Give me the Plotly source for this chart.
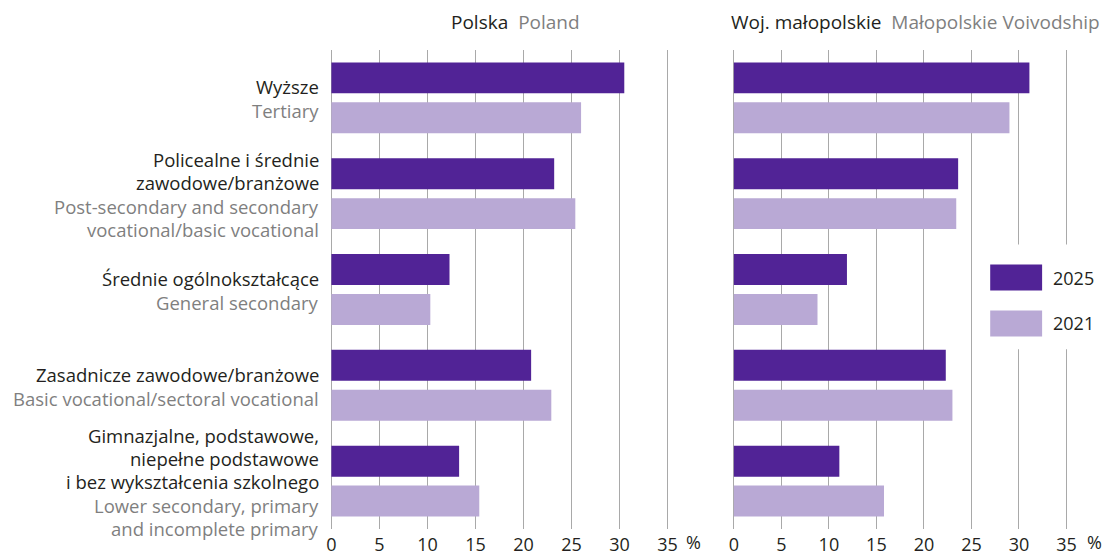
import plotly.graph_objects as go

# ---- data ---------------------------------------------------------------
categories = [
    "Wyższe",
    "Policealne i średnie zawodowe/branżowe",
    "Średnie ogólnokształcące",
    "Zasadnicze zawodowe/branżowe",
    "Gimnazjalne, podstawowe, niepełne podstawowe i bez wykształcenia szkolnego",
]
labels_pl = [
    ["Wyższe"],
    ["Policealne i średnie", "zawodowe/branżowe"],
    ["Średnie ogólnokształcące"],
    ["Zasadnicze zawodowe/branżowe"],
    ["Gimnazjalne, podstawowe,", "niepełne podstawowe", "i bez wykształcenia szkolnego"],
]
labels_en = [
    ["Tertiary"],
    ["Post-secondary and secondary", "vocational/basic vocational"],
    ["General secondary"],
    ["Basic vocational/sectoral vocational"],
    ["Lower secondary, primary", "and incomplete primary"],
]
poland_2025 = [30.5, 23.2, 12.3, 20.8, 13.3]
poland_2021 = [26.0, 25.4, 10.3, 22.9, 15.4]
malopolska_2025 = [31.1, 23.6, 11.9, 22.3, 11.1]
malopolska_2021 = [29.0, 23.4, 8.8, 23.0, 15.8]
years = ["2025", "2021"]
tick_values = [0, 5, 10, 15, 20, 25, 30, 35]

# ---- styling ------------------------------------------------------------
W, H = 1104, 556
FONT = "Open Sans"
DARK = "#512396"
LIGHT = "#b9a9d5"
TEXT_DARK = "#231f20"
TEXT_GREY = "#7f7f7f"
GRID = "#a9a9a9"
LABEL_SIZE = 18.5
TITLE_SIZE = 19
TICK_SIZE = 18

PLOT_TOP, PLOT_BOTTOM = 50, 530
ROW_PX = (PLOT_BOTTOM - PLOT_TOP) / len(categories)
LINE_PX = 23      # spacing between lines of one language
BLOCK_GAP_PX = 24  # spacing between the Polish and English blocks
X_LO, X_HI = -0.3, 37


def fx(p):
    return p / W


def fy(p):
    return 1 - p / H


def x_domain(zero_px, px_per_unit):
    return [fx(zero_px + X_LO * px_per_unit), fx(zero_px + X_HI * px_per_unit)]


fig = go.Figure()

panels = [
    ("x", "y", poland_2025, poland_2021),
    ("x2", "y2", malopolska_2025, malopolska_2021),
]
for xa, ya, v25, v21 in panels:
    for name, vals, col in ((years[0], v25, DARK), (years[1], v21, LIGHT)):
        fig.add_trace(go.Bar(
            x=vals, y=categories, orientation="h", name=name,
            marker=dict(color=col, line=dict(width=0)),
            xaxis=xa, yaxis=ya, showlegend=False,
            hovertemplate="%{y}: %{x}%<extra>" + name + "</extra>",
        ))

axis_common = dict(
    range=[X_LO, X_HI], tickvals=tick_values, showgrid=True, gridcolor=GRID,
    gridwidth=1.3, zeroline=False, showline=False, ticks="", ticklabelstandoff=3,
    tickfont=dict(family=FONT, size=TICK_SIZE, color=TEXT_DARK),
)
yaxis_common = dict(
    categoryorder="array", categoryarray=categories, range=[len(categories) - 0.5, -0.5],
    showticklabels=False, showgrid=False, zeroline=False, showline=False, ticks="",
    domain=[fy(PLOT_BOTTOM), fy(PLOT_TOP)],
)

fig.update_layout(
    width=W, height=H, margin=dict(l=0, r=0, t=0, b=0),
    paper_bgcolor="white", plot_bgcolor="white",
    barmode="group", bargap=0.1667, bargroupgap=0.225,
    font=dict(family=FONT, color=TEXT_DARK),
    xaxis=dict(axis_common, domain=x_domain(330, 9.62), anchor="y"),
    xaxis2=dict(axis_common, domain=x_domain(733.2, 9.52), anchor="y2"),
    yaxis=dict(yaxis_common, anchor="x"),
    yaxis2=dict(yaxis_common, anchor="x2", matches="y"),
)

annotations = []

# category labels: Polish lines (dark) above English lines (grey), centred on the group
for i, (pl, en) in enumerate(zip(labels_pl, labels_en)):
    lines = [(t, TEXT_DARK) for t in pl] + [(t, TEXT_GREY) for t in en]
    pos = []
    y = 0.0
    for k in range(len(lines)):
        if k > 0:
            y += BLOCK_GAP_PX if k == len(pl) else LINE_PX
        pos.append(y)
    mid = (pos[0] + pos[-1]) / 2
    for (txt, col), p in zip(lines, pos):
        off_px = p - mid + 1
        annotations.append(dict(
            text=txt, xref="paper", yref="y", x=fx(319), y=i + off_px / ROW_PX,
            xanchor="right", yanchor="middle", showarrow=False, align="right",
            borderpad=0, font=dict(family=FONT, size=LABEL_SIZE, color=col),
        ))

# panel titles
for cx, pl, en in ((514, "Polska", "Poland"), (915, "Woj. małopolskie", "Małopolskie Voivodship")):
    annotations.append(dict(
        text=f"<span style='color:{TEXT_DARK}'>{pl}</span>&nbsp; <span style='color:{TEXT_GREY}'>{en}</span>",
        xref="paper", yref="paper", x=fx(cx), y=fy(22), xanchor="center", yanchor="middle",
        showarrow=False, font=dict(family=FONT, size=TITLE_SIZE),
    ))

# unit markers after the last tick
for px in (693, 1094):
    annotations.append(dict(
        text="%", xref="paper", yref="paper", x=fx(px), y=fy(556),
        xanchor="center", yanchor="bottom", showarrow=False, borderpad=0,
        font=dict(family=FONT, size=TICK_SIZE, color=TEXT_DARK),
    ))

# legend drawn as a panel with wide swatches
shapes = [dict(type="rect", xref="paper", yref="paper", x0=fx(975), x1=fx(1104),
               y0=fy(350), y1=fy(245), fillcolor="white", line=dict(width=0), layer="above")]
for yr, col, top in ((years[0], DARK, 265), (years[1], LIGHT, 311)):
    shapes.append(dict(type="rect", xref="paper", yref="paper", x0=fx(990), x1=fx(1042),
                       y0=fy(top + 26), y1=fy(top), fillcolor=col, line=dict(width=0), layer="above"))
    annotations.append(dict(
        text=yr, xref="paper", yref="paper", x=fx(1051), y=fy(top + 13),
        xanchor="left", yanchor="middle", showarrow=False,
        font=dict(family=FONT, size=TICK_SIZE, color=TEXT_DARK),
    ))

fig.update_layout(annotations=annotations, shapes=shapes)
fig.write_html("out.html")
